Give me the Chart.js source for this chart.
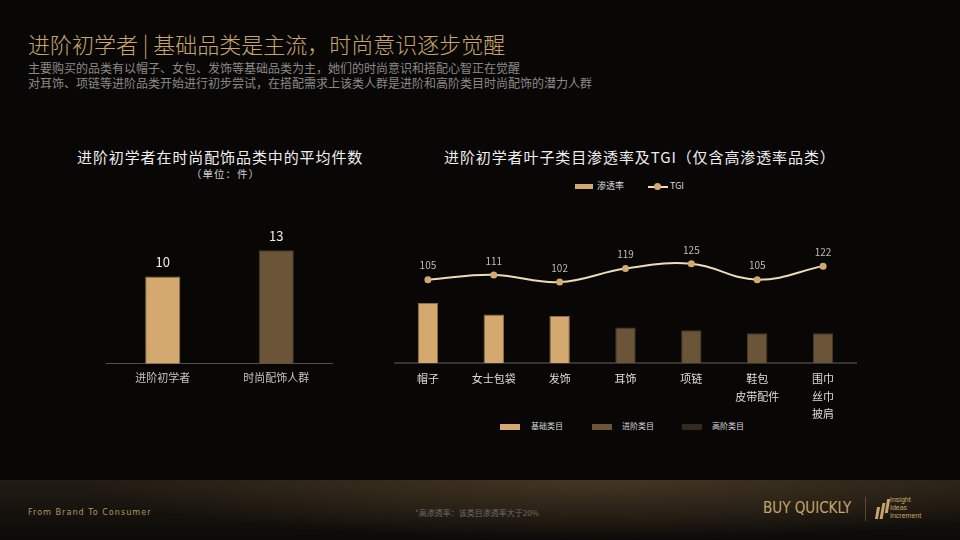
<!DOCTYPE html>
<html>
<head>
<meta charset="utf-8">
<script src="https://cdn.jsdelivr.net/npm/chart.js@4.4.1/dist/chart.umd.min.js"></script>
<style>
  html, body { margin:0; padding:0; }
  body { width:960px; height:540px; background:#080706; position:relative; overflow:hidden;
         font-family:"Noto Sans CJK SC","Noto Sans",sans-serif; }
  .abs { position:absolute; }
  #title { left:28px; top:27px; font-size:22px; color:#c9a56c; font-weight:300; white-space:nowrap; }
  .sub { left:28px; font-size:12px; color:#8c8a86; white-space:nowrap; }
  .ctitle { font-size:15px; color:#eeeeee; letter-spacing:0.9px; white-space:nowrap; font-weight:400; }
  .unit { font-size:10.5px; color:#cfcfcf; white-space:nowrap; letter-spacing:1px; }
  .lg { font-size:9px; color:#d8d8d8; white-space:nowrap; }
  .sw { position:absolute; }
  #footer { left:0; top:480px; width:960px; height:60px;
    background: radial-gradient(ellipse 520px 60px at 600px 0px, rgba(95,75,45,0.55), rgba(0,0,0,0) 100%),
                linear-gradient(#221c14, #0b0a08); }
</style>
</head>
<body>
<div id="title" class="abs">进阶初学者 | 基础品类是主流，时尚意识逐步觉醒</div>
<div class="abs sub" style="top:59px">主要购买的品类有以帽子、女包、发饰等基础品类为主，她们的时尚意识和搭配心智正在觉醒</div>
<div class="abs sub" style="top:74px">对耳饰、项链等进阶品类开始进行初步尝试，在搭配需求上该类人群是进阶和高阶类目时尚配饰的潜力人群</div>

<div class="abs ctitle" style="left:77px;top:146px">进阶初学者在时尚配饰品类中的平均件数</div>
<div class="abs unit" style="left:191px;top:166px">（单位：件）</div>

<div class="abs ctitle" style="left:444px;top:146px">进阶初学者叶子类目渗透率及TGI（仅含高渗透率品类）</div>

<!-- top legend -->
<div class="sw" style="left:575px;top:184px;width:18px;height:5px;background:#d3a970"></div>
<div class="abs lg" style="left:597px;top:179px">渗透率</div>
<div class="sw" style="left:648px;top:186px;width:20px;height:2px;background:#eddcb8"></div>
<div class="sw" style="left:654px;top:183px;width:7px;height:7px;border-radius:50%;background:#d4a96f"></div>
<div class="abs lg" style="left:670px;top:179px">TGI</div>

<!-- bottom legend -->
<div class="sw" style="left:500px;top:424px;width:20px;height:6px;background:#d3a970"></div>
<div class="abs lg" style="left:531px;top:420px;font-size:8px">基础类目</div>
<div class="sw" style="left:592px;top:424px;width:20px;height:6px;background:#6b5538"></div>
<div class="abs lg" style="left:622px;top:420px;font-size:8px">进阶类目</div>
<div class="sw" style="left:682px;top:424px;width:20px;height:6px;background:#33291d"></div>
<div class="abs lg" style="left:712px;top:420px;font-size:8px">高阶类目</div>

<div class="abs" style="left:106px;top:198px"><canvas id="leftChart" width="227" height="185"></canvas></div>
<div class="abs" style="left:391px;top:188px"><canvas id="rightChart" width="469" height="234"></canvas></div>

<div id="footer" class="abs"></div>
<div class="abs" style="left:28px;top:507px;font-size:9px;color:#b39262;letter-spacing:1px;font-family:'Liberation Sans Narrow','DejaVu Sans Condensed',sans-serif">From Brand To Consumer</div>
<div class="abs" style="left:415px;top:507px;font-size:8px;color:#6f6a63">*高渗透率：该类目渗透率大于20%</div>
<div class="abs" style="left:763px;top:499px;font-size:15px;color:#c9a56c;font-family:'Liberation Sans Narrow','DejaVu Sans Condensed',sans-serif">BUY QUICKLY</div>
<div class="sw" style="left:865px;top:497px;width:1px;height:24px;background:#5a4a35"></div>
<div class="sw" style="left:876px;top:507px;width:3px;height:12px;background:#c9a56c;transform:skewX(-10deg)"></div>
<div class="sw" style="left:881px;top:503px;width:3px;height:16px;background:#c9a56c;transform:skewX(-10deg)"></div>
<div class="sw" style="left:886px;top:499px;width:3px;height:14px;background:#c9a56c;transform:skewX(-10deg)"></div>
<div class="abs" style="left:890px;top:496px;font-size:7px;line-height:8px;color:#c9a56c;font-family:'Liberation Sans Narrow',sans-serif">Insight<br>Ideas<br>Increment</div>

<script>
// left chart data
var leftCats = ['进阶初学者', '时尚配饰人群'];
var leftValues = [10, 13];
var leftColors = ['#d3a970', '#6b5538'];

// right chart data
var rightCats = [['帽子'], ['女士包袋'], ['发饰'], ['耳饰'], ['项链'], ['鞋包', '皮带配件'], ['围巾', '丝巾', '披肩']];
var penetration = [42, 34, 33, 25, 23, 21, 21];
var tgi = [105, 111, 102, 119, 125, 105, 122];
var tiers = ['基础', '基础', '基础', '进阶', '进阶', '进阶', '进阶'];

var tierFill = { '基础': '#d3a970', '进阶': '#6b5538', '高阶': '#33291d' };
var tierLine = { '基础': '#8e6f45', '进阶': '#4a3a27', '高阶': '#221b13' };

var FONT = '"Noto Sans CJK SC", "Noto Sans", sans-serif';

// draws value text above the marks of one dataset
var valueLabels = {
	id: 'valueLabels',
	afterDatasetsDraw: function(chart, args, opts){
		var ctx = chart.ctx;
		var meta = chart.getDatasetMeta(opts.dataset);
		var data = chart.data.datasets[opts.dataset].data;
		ctx.save();
		ctx.font = opts.size + 'px ' + FONT;
		ctx.fillStyle = opts.color;
		ctx.textAlign = 'center';
		ctx.textBaseline = 'middle';
		for(var i in meta.data){
			var el = meta.data[i];
			ctx.fillText(data[i], el.x, el.y - opts.offset);
		}
		ctx.restore();
	}
};

new Chart(document.getElementById('leftChart'), {
	type: 'bar',
	data: {
		labels: leftCats,
		datasets: [{
			data: leftValues,
			backgroundColor: leftColors,
			borderColor: ['#8e6f45', '#4a3a27'],
			borderWidth: 1,
			barPercentage: 0.31,
			categoryPercentage: 1
		}]
	},
	options: {
		responsive: false,
		animation: false,
		layout: { padding: { top: 26 } },
		plugins: {
			legend: { display: false },
			tooltip: { enabled: false },
			valueLabels: { dataset: 0, size: 13, color: '#eeeeee', offset: 14 }
		},
		scales: {
			x: {
				grid: { display: false },
				border: { color: '#555049', width: 1 },
				ticks: { color: '#c4c4c4', font: { family: FONT, size: 11 }, padding: -1 }
			},
			y: { display: false, min: 0, max: 16 }
		}
	},
	plugins: [valueLabels]
});

new Chart(document.getElementById('rightChart'), {
	data: {
		labels: rightCats,
		datasets: [
			{
				type: 'line',
				label: 'TGI',
				data: tgi,
				yAxisID: 'y2',
				borderColor: '#eddcb8',
				borderWidth: 2,
				tension: 0.4,
				pointRadius: 3.5,
				pointBackgroundColor: '#d4a96f',
				pointBorderWidth: 0,
				order: 0
			},
			{
				type: 'bar',
				label: '渗透率',
				data: penetration,
				yAxisID: 'y',
				backgroundColor: tiers.map(function(t){ return tierFill[t]; }),
				borderColor: tiers.map(function(t){ return tierLine[t]; }),
				borderWidth: 1,
				barPercentage: 0.31,
				categoryPercentage: 1,
				order: 1
			}
		]
	},
	options: {
		responsive: false,
		animation: false,
		layout: { padding: { top: 32 } },
		plugins: {
			legend: { display: false },
			tooltip: { enabled: false },
			valueLabels: { dataset: 0, size: 10, color: '#bbbbbb', offset: 14 }
		},
		scales: {
			x: {
				grid: { display: false },
				border: { color: '#363330', width: 2 },
				ticks: { color: '#dddddd', font: { family: FONT, size: 11, lineHeight: 1.6 }, padding: -1, autoSkip: false, maxRotation: 0 }
			},
			y: { display: false, min: 0, max: 100 },
			y2: { display: false, min: 0, max: 180, position: 'right' }
		}
	},
	plugins: [valueLabels]
});
</script>
</body>
</html>
